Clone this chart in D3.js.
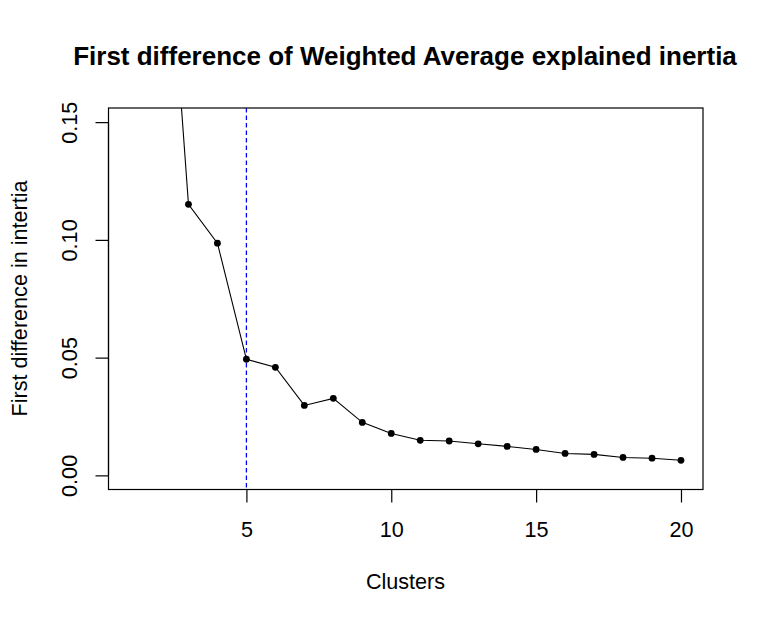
<!DOCTYPE html>
<html><head><meta charset="utf-8">
<script src="https://cdn.jsdelivr.net/npm/d3@7"></script>
<style>body{margin:0;background:#fff}svg{display:block}text{font-family:"Liberation Sans",Arial,sans-serif}</style>
</head><body><svg id="c" width="759" height="624"></svg>
<script>
const clusters = [2,3,4,5,6,7,8,9,10,11,12,13,14,15,16,17,18,19,20];
const firstDiff = [0.285,0.1151,0.0986,0.0493,0.0459,0.0297,0.0327,0.0225,0.0178,0.0149,0.0146,0.0134,0.0123,0.0110,0.0093,0.0089,0.0076,0.0073,0.0064];
const xTicks = [5,10,15,20];
const yTicks = [0,0.05,0.10,0.15];
const elbow = 5;
const title = "First difference of Weighted Average explained inertia";
const xTitle = "Clusters";
const yTitle = "First difference in intertia";

const FS = 21.6, FT = 26;
const svg = d3.select("#c");
const L=108.5, R=703, T=108, B=489.5;
const x = d3.scaleLinear().domain([0.24,20.76]).range([L,R]);
const y = d3.scaleLinear().domain([-0.006,0.156]).range([B,T]);

svg.append("defs").append("clipPath").attr("id","clip")
  .append("rect").attr("x",L).attr("y",T).attr("width",R-L).attr("height",B-T);

const g = svg.append("g").attr("clip-path","url(#clip)");
g.append("line").attr("x1",x(elbow)).attr("x2",x(elbow)).attr("y1",T).attr("y2",B)
  .attr("stroke","#0000ff").attr("stroke-width",1.3).attr("stroke-dasharray","4.5,3");
g.append("path").datum(clusters.map((c,i)=>[c,firstDiff[i]]))
  .attr("d",d3.line().x(d=>x(d[0])).y(d=>y(d[1])))
  .attr("fill","none").attr("stroke","#000").attr("stroke-width",1.1);
g.selectAll("circle").data(clusters.map((c,i)=>[c,firstDiff[i]])).enter().append("circle")
  .attr("cx",d=>x(d[0])).attr("cy",d=>y(d[1])).attr("r",3.4).attr("fill","#000");

svg.append("rect").attr("x",L).attr("y",T).attr("width",R-L).attr("height",B-T)
  .attr("fill","none").attr("stroke","#000").attr("stroke-width",1.2);

const xa = svg.append("g").attr("transform",`translate(0,${B})`)
  .call(d3.axisBottom(x).tickValues(xTicks).tickSize(13).tickFormat(d3.format("d")));
xa.select(".domain").attr("d",`M${x(5)},0H${x(20)}`).attr("stroke-width",1.2);
xa.selectAll(".tick line").attr("stroke-width",1.2);
xa.selectAll("text").attr("font-size",FS).attr("fill","#000").attr("y",47).attr("dy",null);

const ya = svg.append("g").attr("transform",`translate(${L},0)`)
  .call(d3.axisLeft(y).tickValues(yTicks).tickSize(13).tickFormat(d3.format(".2f")));
ya.select(".domain").attr("d",`M0,${y(0)}V${y(0.15)}`).attr("stroke-width",1.2);
ya.selectAll(".tick line").attr("stroke-width",1.2);
ya.selectAll("text").attr("font-size",FS).attr("fill","#000")
  .attr("x",null).attr("dy",null).attr("text-anchor","middle")
  .attr("transform","translate(-31.8,0) rotate(-90)");

svg.append("text").attr("x",405).attr("y",65).attr("text-anchor","middle")
  .attr("font-size",FT).attr("font-weight","bold").text(title);
svg.append("text").attr("x",405.5).attr("y",589).attr("text-anchor","middle")
  .attr("font-size",FS).text(xTitle);
svg.append("text").attr("transform","translate(27,298.5) rotate(-90)").attr("text-anchor","middle")
  .attr("font-size",FS).text(yTitle);
</script></body></html>
